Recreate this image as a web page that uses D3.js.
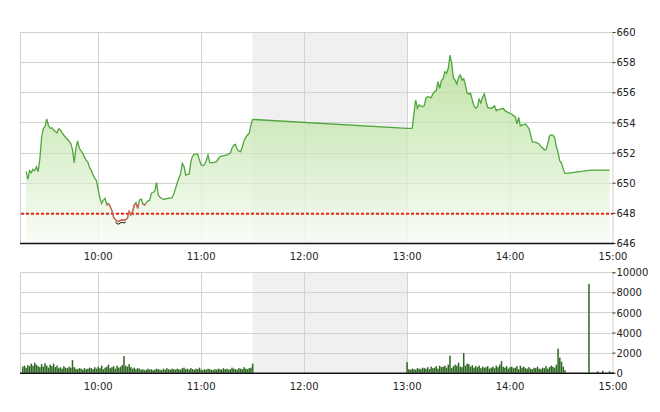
<!DOCTYPE html>
<html><head><meta charset="utf-8">
<script src="https://cdn.jsdelivr.net/npm/d3@7/dist/d3.min.js"></script>
<style>
html,body{margin:0;padding:0;background:#fff;}
svg{display:block;}
text{font-family:"DejaVu Sans",Verdana,sans-serif;font-size:10px;fill:#222;}
</style></head>
<body>
<svg id="chart" width="660" height="412"></svg>
<script>
// ---------- DATA ----------
const sessionStart = "09:15";
const sessionEnd = "15:00";
const lunchBreak = ["11:30", "13:00"];
const refPrice = 648;          // red dashed reference line
const redBelow = 648.6;        // line drawn red under this level
const hourTicks = ["10:00","11:00","12:00","13:00","14:00","15:00"];
const priceTicks = [646,648,650,652,654,656,658,660];
const volumeTicks = [0,2000,4000,6000,8000,10000];

const priceTimes = [
"09:18","09:19","09:20","09:21","09:22","09:23","09:24","09:25","09:26","09:27","09:28","09:29","09:30","09:31","09:32","09:33","09:34","09:35","09:36","09:37","09:38","09:39","09:40","09:41","09:42","09:43","09:44","09:45","09:46","09:47","09:48","09:49","09:50","09:51","09:52","09:53","09:54","09:55","09:56","09:57","09:58","09:59",
"10:00","10:01","10:02","10:03","10:04","10:05","10:06","10:07","10:08","10:09","10:10","10:11","10:12","10:13","10:14","10:15","10:16","10:17","10:18","10:19","10:20","10:21","10:22","10:23","10:24","10:25","10:26","10:27","10:28","10:29","10:30","10:31","10:32","10:33","10:34","10:35","10:36","10:37","10:38","10:39","10:40","10:41","10:42","10:43","10:44","10:45","10:46","10:47","10:48","10:49","10:50","10:51","10:52","10:53","10:54","10:55","10:56","10:57","10:58","10:59",
"11:00","11:01","11:02","11:03","11:04","11:05","11:06","11:07","11:08","11:09","11:10","11:11","11:12","11:13","11:14","11:15","11:16","11:17","11:18","11:19","11:20","11:21","11:22","11:23","11:24","11:25","11:26","11:27","11:28","11:29","11:30",
"13:00","13:01","13:02","13:03","13:04","13:05","13:06","13:07","13:08","13:09","13:10","13:11","13:12","13:13","13:14","13:15","13:16","13:17","13:18","13:19","13:20","13:21","13:22","13:23","13:24","13:25","13:26","13:27","13:28","13:29","13:30","13:31","13:32","13:33","13:34","13:35","13:36","13:37","13:38","13:39","13:40","13:41","13:42","13:43","13:44","13:45","13:46","13:47","13:48","13:49","13:50","13:51","13:52","13:53","13:54","13:55","13:56","13:57","13:58","13:59",
"14:00","14:01","14:02","14:03","14:04","14:05","14:06","14:07","14:08","14:09","14:10","14:11","14:12","14:13","14:14","14:15","14:16","14:17","14:18","14:19","14:20","14:21","14:22","14:23","14:24","14:25","14:26","14:27","14:28","14:29","14:30","14:31","14:32","14:33",
"14:47","14:58"
];
const priceValues = [
650.73,650.23,650.8,650.66,650.89,650.8,651.06,650.73,651.6,653.0,653.6,653.72,654.23,653.8,653.6,653.65,653.5,653.4,653.32,653.58,653.5,653.3,653.15,653.0,652.9,652.75,652.6,652.2,651.33,652.28,652.77,652.28,652.12,651.95,651.7,651.5,651.35,651.0,650.8,650.52,650.3,650.13,
649.52,648.97,648.63,648.85,648.97,648.55,648.63,648.4,648.15,647.7,647.55,647.45,647.42,647.5,647.53,647.5,647.55,647.64,648.1,647.86,648.08,648.52,648.68,648.3,648.85,648.92,648.6,648.52,648.68,648.78,648.85,649.3,649.35,649.45,650.0,649.19,649.03,648.95,648.9,648.92,648.95,648.97,648.98,649.0,649.25,649.6,649.96,650.3,650.6,651.29,651.07,650.51,650.55,650.58,651.4,651.77,651.9,651.9,651.88,651.5,
651.18,651.14,651.2,651.5,651.84,651.33,651.33,651.33,651.36,651.4,651.6,651.73,651.77,651.8,651.82,651.84,651.9,651.95,652.3,652.5,652.55,652.22,652.1,652.06,652.39,652.8,653.01,653.17,653.28,653.83,654.2,
653.6,653.6,653.6,653.62,654.6,655.49,654.94,655.16,655.08,655.05,655.1,655.6,655.71,655.68,655.64,655.89,656.04,656.11,656.7,656.26,656.8,656.9,657.37,657.26,657.59,658.47,657.92,656.93,656.8,656.55,657.0,657.15,656.8,656.9,656.48,655.93,655.89,655.93,655.49,655.1,654.94,655.05,655.54,655.3,655.67,655.89,655.4,655.0,654.97,654.94,655.0,655.1,654.78,654.85,654.87,654.92,654.94,654.78,654.72,654.65,
654.6,654.56,654.45,654.38,653.9,654.34,653.76,653.83,653.85,653.9,653.75,653.6,653.17,652.72,652.7,652.68,652.63,652.55,652.4,652.3,652.17,652.2,652.6,653.1,653.17,653.15,653.0,652.4,652.0,651.45,651.3,650.9,650.62,650.62,
650.84,650.84
];

const volumeTimes = [
"09:16","09:17","09:18","09:19","09:20","09:21","09:22","09:23","09:24","09:25","09:26","09:27","09:28","09:29","09:30","09:31","09:32","09:33","09:34","09:35","09:36","09:37","09:38","09:39","09:40","09:41","09:42","09:43","09:44","09:45","09:46","09:47","09:48","09:49","09:50","09:51","09:52","09:53","09:54","09:55","09:56","09:57","09:58","09:59",
"10:00","10:01","10:02","10:03","10:04","10:05","10:06","10:07","10:08","10:09","10:10","10:11","10:12","10:13","10:14","10:15","10:16","10:17","10:18","10:19","10:20","10:21","10:22","10:23","10:24","10:25","10:26","10:27","10:28","10:29","10:30","10:31","10:32","10:33","10:34","10:35","10:36","10:37","10:38","10:39","10:40","10:41","10:42","10:43","10:44","10:45","10:46","10:47","10:48","10:49","10:50","10:51","10:52","10:53","10:54","10:55","10:56","10:57","10:58","10:59",
"11:00","11:01","11:02","11:03","11:04","11:05","11:06","11:07","11:08","11:09","11:10","11:11","11:12","11:13","11:14","11:15","11:16","11:17","11:18","11:19","11:20","11:21","11:22","11:23","11:24","11:25","11:26","11:27","11:28","11:29","11:30",
"13:00","13:01","13:02","13:03","13:04","13:05","13:06","13:07","13:08","13:09","13:10","13:11","13:12","13:13","13:14","13:15","13:16","13:17","13:18","13:19","13:20","13:21","13:22","13:23","13:24","13:25","13:26","13:27","13:28","13:29","13:30","13:31","13:32","13:33","13:34","13:35","13:36","13:37","13:38","13:39","13:40","13:41","13:42","13:43","13:44","13:45","13:46","13:47","13:48","13:49","13:50","13:51","13:52","13:53","13:54","13:55","13:56","13:57","13:58","13:59",
"14:00","14:01","14:02","14:03","14:04","14:05","14:06","14:07","14:08","14:09","14:10","14:11","14:12","14:13","14:14","14:15","14:16","14:17","14:18","14:19","14:20","14:21","14:22","14:23","14:24","14:25","14:26","14:27","14:28","14:29","14:30","14:31","14:32",
"14:46","14:51","14:54","14:58"
];
const volumeValues = [
600,700,500,750,650,900,700,1000,800,650,
550,850,600,950,700,500,800,650,900,550,
700,450,550,400,650,500,450,600,500,1250,
550,400,350,450,400,300,450,350,400,500,
450,350,550,400,600,450,700,350,500,600,
800,450,550,650,400,700,500,600,750,1650,
700,600,850,550,400,500,350,450,400,300,
350,250,300,400,300,350,250,300,400,350,
300,250,400,300,450,350,300,400,350,300,
400,350,300,450,500,350,400,300,450,350,
300,400,350,500,300,250,350,300,400,350,
300,250,350,300,400,350,300,450,350,400,
300,350,500,400,350,300,450,400,350,550,400,350,450,500,900,
1050,
350,300,400,350,300,450,400,350,500,450,
400,550,350,600,450,500,650,400,700,550,
600,700,500,800,1700,450,650,800,700,1000,
600,550,1950,700,900,850,600,750,500,650,
550,700,450,600,500,550,650,400,500,600,
450,700,550,800,1150,600,500,650,400,550,
600,450,500,650,350,700,500,600,450,400,
550,400,350,500,450,600,400,350,500,450,
650,400,550,700,600,500,800,2400,1500,1100,
600,250,
8850,150,200,150
];

// ---------- CHART ----------
const parseT = d3.timeParse("%H:%M");
const svg = d3.select("#chart");
svg.append("rect").attr("width",660).attr("height",412).attr("fill","#fff");

const L = 21, R = 613;
const P = {top:32, bottom:243};
const V = {top:272.3, bottom:372.7};

const x = d3.scaleTime().domain([parseT(sessionStart), parseT(sessionEnd)]).range([L, R]);
const yP = d3.scaleLinear().domain([646, 660]).range([P.bottom, P.top]);
const yV = d3.scaleLinear().domain([0, 10000]).range([V.bottom, V.top]);

const price = priceTimes.map((t,i)=>({t:parseT(t), v:priceValues[i]}));
const vol = volumeTimes.map((t,i)=>({t:parseT(t), v:volumeValues[i]}));
const hours = hourTicks.map(parseT);
const snap = v => Math.round(v) + 0.5;

function panel(g, y, ticks, top, bottom, fmt){
  g.append("rect")
    .attr("x", x(parseT(lunchBreak[0]))).attr("y", top)
    .attr("width", x(parseT(lunchBreak[1])) - x(parseT(lunchBreak[0])))
    .attr("height", bottom - top).attr("fill", "#f0f0f0");
  g.selectAll(null).data(ticks.slice(1)).join("line")
    .attr("x1", L).attr("x2", R)
    .attr("y1", d=>snap(y(d))).attr("y2", d=>snap(y(d)))
    .attr("stroke", "#d2d2d2").attr("stroke-width", 1);
  g.selectAll(null).data(hours.slice(0,-1)).join("line")
    .attr("x1", d=>snap(x(d))).attr("x2", d=>snap(x(d)))
    .attr("y1", top).attr("y2", bottom)
    .attr("stroke", "#d2d2d2").attr("stroke-width", 1);
  g.append("line").attr("x1", snap(L)-1).attr("x2", snap(L)-1).attr("y1", top).attr("y2", bottom)
    .attr("stroke", "#cfcfcf");
  const ax = g.append("g").attr("transform", `translate(${snap(R)-1},0)`)
    .call(d3.axisRight(y).tickValues(ticks).tickSize(3).tickPadding(1).tickFormat(fmt));
  ax.select(".domain").attr("stroke", "#cfcfcf");
  ax.selectAll(".tick line").attr("stroke", "#333");
  ax.selectAll(".tick text").attr("fill", "#222").attr("font-family", null).attr("font-size", null)
    .attr("dy", "0.36em");
  return ax;
}

const gP = svg.append("g");
panel(gP, yP, priceTicks, P.top, P.bottom, d3.format("d"));

const defs = svg.append("defs");
const grad = defs.append("linearGradient").attr("id","fillGrad")
  .attr("gradientUnits","userSpaceOnUse").attr("x1",0).attr("x2",0)
  .attr("y1", yP(658.5)).attr("y2", P.bottom);
grad.append("stop").attr("offset",0).attr("stop-color","#b3dd93");
grad.append("stop").attr("offset",0.55).attr("stop-color","#d6edc6");
grad.append("stop").attr("offset",1).attr("stop-color","#f8fcf5");

const area = d3.area().x(d=>x(d.t)).y0(P.bottom).y1(d=>yP(d.v));
gP.append("path").datum(price).attr("d", area)
  .attr("fill","url(#fillGrad)").attr("fill-opacity",0.82);

gP.selectAll(null).data(priceTicks.slice(1)).join("line")
  .attr("x1", L).attr("x2", R)
  .attr("y1", d=>snap(yP(d))).attr("y2", d=>snap(yP(d)))
  .attr("stroke", "#c8d8c0").attr("stroke-opacity",0.35);

gP.append("line").attr("x1", L).attr("x2", R)
  .attr("y1", yP(refPrice)+0.8).attr("y2", yP(refPrice)+0.8)
  .attr("stroke","#e3241b").attr("stroke-width",2).attr("stroke-dasharray","3,2");

const line = d3.line().x(d=>x(d.t)).y(d=>yP(d.v));
gP.append("path").datum(price).attr("d", line)
  .attr("fill","none").attr("stroke","#4fa63d").attr("stroke-width",1.3);

defs.append("clipPath").attr("id","lowClip").append("rect")
  .attr("x", L).attr("width", R-L)
  .attr("y", yP(redBelow)).attr("height", P.bottom - yP(redBelow));
gP.append("path").datum(price).attr("d", line).attr("clip-path","url(#lowClip)")
  .attr("fill","none").attr("stroke","#e05a5a").attr("stroke-width",1.3);

const lowV = d3.min(priceValues);
const lowSeg = price.filter(d=>d.v < lowV + 0.15);
gP.append("path").datum(lowSeg).attr("d", line)
  .attr("transform","translate(0,2.5)")
  .attr("fill","none").attr("stroke","#111").attr("stroke-width",1);

gP.append("line").attr("x1", L-1).attr("x2", R+1).attr("y1", P.bottom+0.5).attr("y2", P.bottom+0.5)
  .attr("stroke","#111").attr("stroke-width",1.5);
gP.selectAll(null).data(hours).join("text")
  .attr("x", d=>x(d)).attr("y", P.bottom+17).attr("text-anchor","middle")
  .text((d,i)=>hourTicks[i]);

// ---------- VOLUME PANEL ----------
const gV = svg.append("g");
panel(gV, yV, volumeTicks, V.top, V.bottom, d3.format("d"));
gV.selectAll(null).data(vol).join("rect")
  .attr("x", d=>x(d.t)-0.75).attr("width", 1.5)
  .attr("y", d=>yV(d.v)).attr("height", d=>V.bottom - yV(d.v))
  .attr("fill","#2c6620");
gV.append("line").attr("x1", L-1).attr("x2", R+1).attr("y1", V.bottom+0.5).attr("y2", V.bottom+0.5)
  .attr("stroke","#111").attr("stroke-width",1.5);
gV.selectAll(null).data(hours).join("text")
  .attr("x", d=>x(d)).attr("y", V.bottom+17).attr("text-anchor","middle")
  .text((d,i)=>hourTicks[i]);
</script>
</body></html>
